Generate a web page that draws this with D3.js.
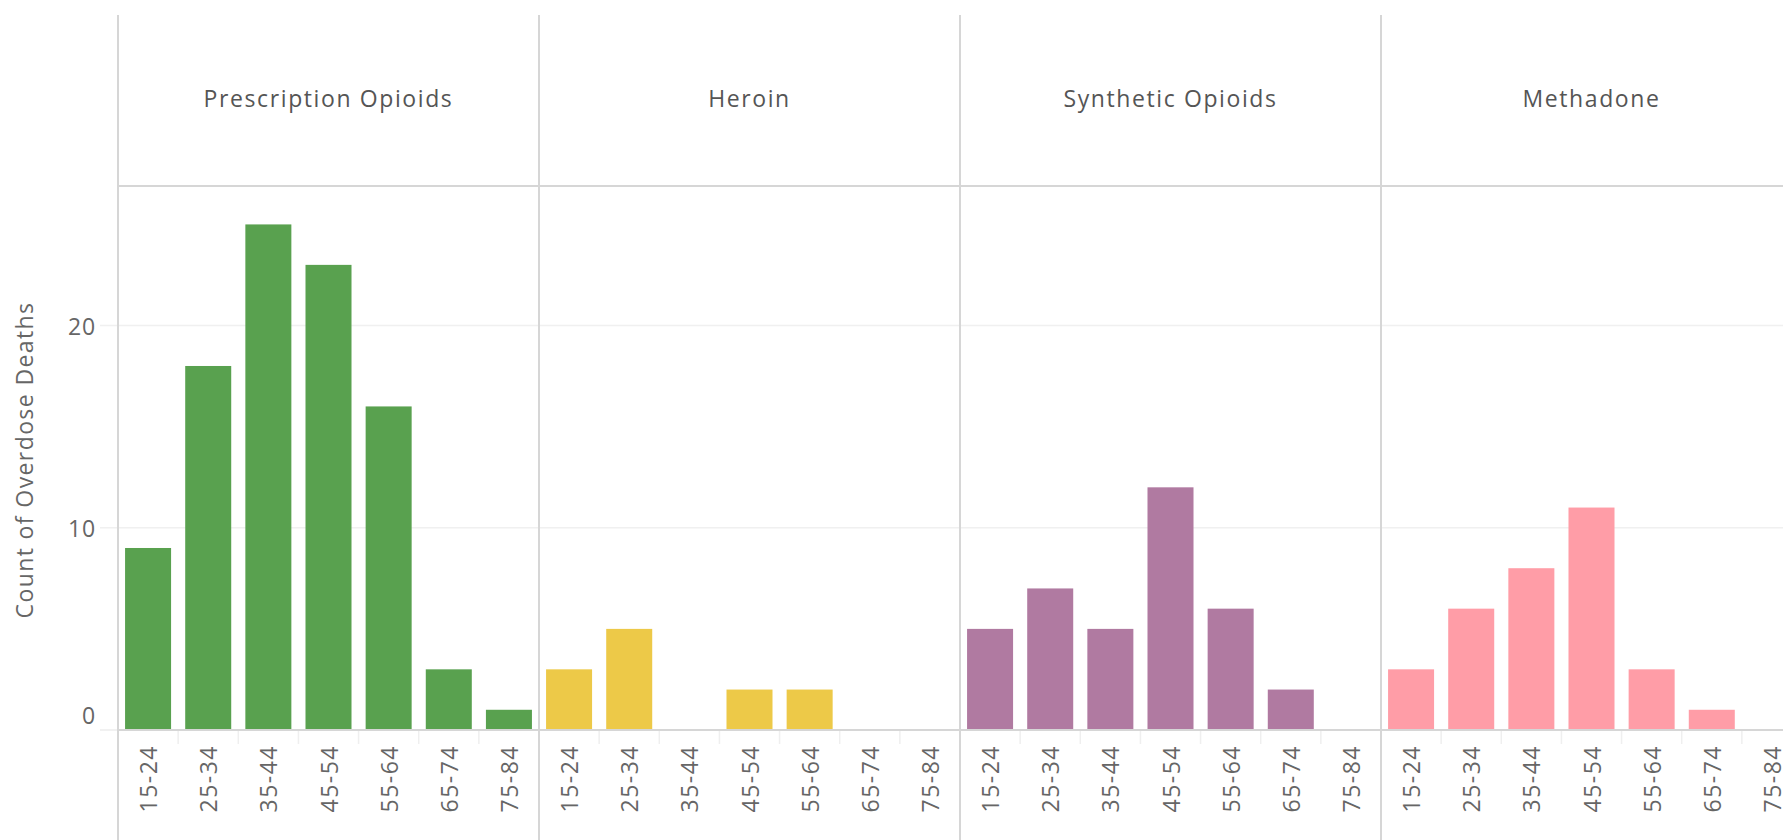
<!DOCTYPE html>
<html>
<head>
<meta charset="utf-8">
<script src="https://cdn.jsdelivr.net/npm/d3@7"></script>
<style>
  html, body { margin: 0; padding: 0; background: #fff; overflow: hidden; }
  svg { display: block; font-family: "Open Sans", sans-serif; }
</style>
</head>
<body>
<div id="chart"></div>
<script>
// data
const drugs = ["Prescription Opioids", "Heroin", "Synthetic Opioids", "Methadone"];
const ageGroups = ["15-24", "25-34", "35-44", "45-54", "55-64", "65-74", "75-84"];
const prescriptionOpioids = [9, 18, 25, 23, 16, 3, 1];
const heroin = [3, 5, 0, 2, 2, 0, 0];
const syntheticOpioids = [5, 7, 5, 12, 6, 2, 0];
const methadone = [3, 6, 8, 11, 3, 1, 0];
const drugColors = ["#59a14f", "#edc948", "#b07aa1", "#ff9da7"];
const yTicks = [0, 10, 20];

const seriesByDrug = [prescriptionOpioids, heroin, syntheticOpioids, methadone];

const width = 1783, height = 840;
const plotLeft = 118, panelW = 421;
const headerTop = 15, headerBottom = 186, baseY = 730;
const lineColor = "#d6d6d6";

const svg = d3.select("#chart").append("svg")
  .attr("width", width)
  .attr("height", height);

const xPanel = d3.scaleBand()
  .domain(drugs)
  .range([plotLeft, plotLeft + panelW * drugs.length]);

const xAge = d3.scaleBand()
  .domain(ageGroups)
  .range([0, xPanel.bandwidth()])
  .paddingInner(0.235)
  .paddingOuter(0.1175);

const y = d3.scaleLinear()
  .domain([0, 26.9])
  .range([baseY, headerBottom]);

const color = d3.scaleOrdinal().domain(drugs).range(drugColors);

// gridlines
svg.append("g")
  .selectAll("line")
  .data(yTicks.filter(d => d > 0))
  .join("line")
  .attr("x1", 100).attr("x2", width)
  .attr("y1", d => y(d)).attr("y2", d => y(d))
  .attr("stroke", "#f0f0f0")
  .attr("stroke-width", 1.5);

// y tick labels (Tableau nudges the zero label up)
svg.append("g")
  .selectAll("text")
  .data(yTicks)
  .join("text")
  .attr("x", 96)
  .attr("y", d => y(d) - (d === 0 ? 15 : 0))
  .attr("text-anchor", "end")
  .attr("dominant-baseline", "central")
  .attr("fill", "#666")
  .style("font-size", "23px")
  .style("letter-spacing", "0.8px")
  .text(d => d);

// y axis title
svg.append("text")
  .attr("transform", `translate(24, 460) rotate(-90)`)
  .attr("text-anchor", "middle")
  .attr("dominant-baseline", "central")
  .attr("fill", "#666")
  .style("font-size", "23px")
  .style("letter-spacing", "1.4px")
  .text("Count of Overdose Deaths");

// zero line stub left of the panels
svg.append("line")
  .attr("x1", 100).attr("x2", plotLeft)
  .attr("y1", baseY).attr("y2", baseY)
  .attr("stroke", "#ececec")
  .attr("stroke-width", 1.5);

const panels = svg.append("g")
  .selectAll("g")
  .data(drugs)
  .join("g")
  .attr("transform", d => `translate(${xPanel(d)},0)`);

// header text
panels.append("text")
  .attr("x", xPanel.bandwidth() / 2)
  .attr("y", 98)
  .attr("text-anchor", "middle")
  .attr("dominant-baseline", "central")
  .attr("fill", "#555")
  .style("font-size", "23px")
  .style("letter-spacing", "1.6px")
  .text(d => d);

// bars
panels.each(function(drug, i) {
  const g = d3.select(this);
  const rows = ageGroups.map((a, j) => ({ age: a, value: seriesByDrug[i][j] }));

  g.selectAll("rect")
    .data(rows.filter(r => r.value > 0))
    .join("rect")
    .attr("x", r => xAge(r.age))
    .attr("width", xAge.bandwidth())
    .attr("y", r => y(r.value))
    .attr("height", r => y(0) - y(r.value))
    .attr("fill", color(drug));

  // faint category separators under the axis
  g.selectAll("line.sep")
    .data(ageGroups.slice(1))
    .join("line")
    .attr("class", "sep")
    .attr("x1", a => xAge(a) - xAge.step() * xAge.paddingInner() / 2)
    .attr("x2", a => xAge(a) - xAge.step() * xAge.paddingInner() / 2)
    .attr("y1", baseY).attr("y2", baseY + 14)
    .attr("stroke", "#efefef")
    .attr("stroke-width", 1.5);

  g.selectAll("text.tick")
    .data(ageGroups)
    .join("text")
    .attr("class", "tick")
    .attr("transform", a => `translate(${xAge(a) + xAge.bandwidth() / 2}, 745) rotate(-90)`)
    .attr("text-anchor", "end")
    .attr("dominant-baseline", "central")
    .attr("fill", "#666")
    .style("font-size", "23px")
    .style("letter-spacing", "1.5px")
    .text(a => a);
});

// frame lines
svg.append("line")
  .attr("x1", plotLeft).attr("x2", width)
  .attr("y1", headerBottom).attr("y2", headerBottom)
  .attr("stroke", lineColor).attr("stroke-width", 2);

svg.append("line")
  .attr("x1", plotLeft).attr("x2", width)
  .attr("y1", baseY).attr("y2", baseY)
  .attr("stroke", lineColor).attr("stroke-width", 2);

svg.append("g")
  .selectAll("line")
  .data(drugs)
  .join("line")
  .attr("x1", d => xPanel(d)).attr("x2", d => xPanel(d))
  .attr("y1", headerTop).attr("y2", height)
  .attr("stroke", lineColor)
  .attr("stroke-width", 2);
</script>
</body>
</html>
